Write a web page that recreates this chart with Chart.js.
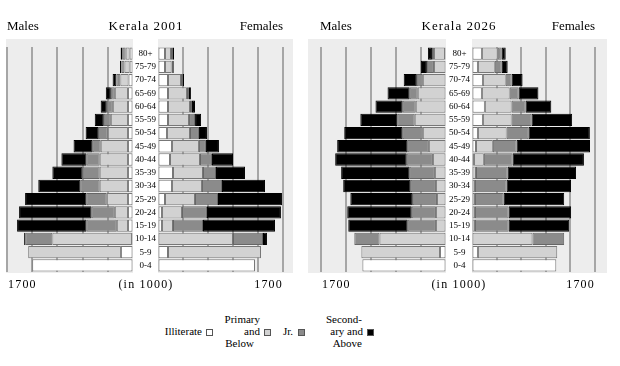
<!DOCTYPE html>
<html>
<head>
<meta charset="utf-8">
<script src="https://cdn.jsdelivr.net/npm/chart.js@4.4.1/dist/chart.umd.min.js"></script>
<style>
  body { margin: 0; background: #fff; }
  #wrap { position: relative; width: 620px; height: 366px; font-family: "Liberation Serif", serif; color: #000; }
  canvas { position: absolute; }
  .t { position: absolute; white-space: nowrap; }
  .title { font-size: 13px; line-height: 13px; top: 19px; }
  .foot { font-size: 12px; line-height: 12px; top: 278px; letter-spacing: 1.2px; }
  .lg { font-size: 11px; line-height: 12px; text-align: right; }
  .box { position: absolute; width: 5px; height: 5px; border: 1px solid #555; top: 329px; }
</style>
</head>
<body>
<div id="wrap">
  <canvas id="m2001" width="133" height="250" style="left:0;top:30px"></canvas>
  <canvas id="f2001" width="167" height="250" style="left:133px;top:30px"></canvas>
  <canvas id="m2026" width="146" height="250" style="left:300px;top:30px"></canvas>
  <canvas id="f2026" width="174" height="250" style="left:446px;top:30px"></canvas>

  <div class="t title" style="left:7px">Males</div>
  <div class="t title" style="left:96px;width:100px;text-align:center;letter-spacing:1px">Kerala 2001</div>
  <div class="t title" style="left:183px;width:100px;text-align:right">Females</div>
  <div class="t title" style="left:320px">Males</div>
  <div class="t title" style="left:409px;width:100px;text-align:center;letter-spacing:1px">Kerala 2026</div>
  <div class="t title" style="left:495px;width:100px;text-align:right">Females</div>

  <div class="t foot" style="left:8px">1700</div>
  <div class="t foot" style="left:96px;width:100px;text-align:center">(in 1000)</div>
  <div class="t foot" style="left:183px;width:100px;text-align:right">1700</div>
  <div class="t foot" style="left:322px">1700</div>
  <div class="t foot" style="left:409px;width:100px;text-align:center">(in 1000)</div>
  <div class="t foot" style="left:495px;width:100px;text-align:right">1700</div>

  <div class="t lg" style="left:140px;width:62px;top:325px">Illiterate</div>
  <div class="box" style="left:206px;background:#fff"></div>
  <div class="t lg" style="left:200px;width:60px;top:313px">Primary</div>
  <div class="t lg" style="left:200px;width:60px;top:325px">and</div>
  <div class="t lg" style="left:200px;width:54px;top:337px">Below</div>
  <div class="box" style="left:264px;background:#d2d2d2"></div>
  <div class="t lg" style="left:260px;width:33px;top:325px">Jr.</div>
  <div class="box" style="left:298px;background:#8b8b8b"></div>
  <div class="t lg" style="left:300px;width:62px;top:313px">Second-</div>
  <div class="t lg" style="left:300px;width:63px;top:325px">ary and</div>
  <div class="t lg" style="left:300px;width:62px;top:337px">Above</div>
  <div class="box" style="left:367px;background:#000"></div>
</div>
<script>
// age groups, top row first
const ageGroups = ['80+', '75-79', '70-74', '65-69', '60-64', '55-59', '50-54', '45-49', '40-44',
  '35-39', '30-34', '25-29', '20-24', '15-19', '10-14', '5-9', '0-4'];
const educationLevels = ['Illiterate', 'Primary and Below', 'Jr.', 'Secondary and Above'];
const axisMax = 1700;
const gridStep = 340;

// Kerala 2001 (in 1000)
const male2001Illiterate = [45, 45, 60, 68, 68, 68, 68, 68, 68, 68, 68, 68, 68, 68, 14, 163, 1360];
const male2001Primary    = [54, 70, 110, 177, 204, 231, 272, 367, 381, 381, 381, 286, 177, 150, 1074, 1251, 0];
const male2001Jr         = [41, 40, 55, 54, 82, 95, 122, 109, 177, 231, 258, 272, 313, 408, 367, 0, 0];
const male2001Secondary  = [27, 20, 50, 68, 82, 122, 177, 258, 340, 408, 571, 830, 979, 938, 14, 0, 0];

const female2001Illiterate = [95, 95, 136, 136, 136, 136, 122, 190, 163, 204, 190, 95, 54, 54, 0, 136, 1319];
const female2001Primary    = [82, 90, 177, 258, 299, 286, 313, 367, 408, 408, 408, 408, 272, 150, 1020, 1265, 0];
const female2001Jr         = [27, 20, 27, 27, 27, 82, 122, 95, 163, 177, 272, 313, 340, 408, 408, 0, 0];
const female2001Secondary  = [14, 10, 14, 27, 41, 82, 109, 177, 286, 394, 585, 870, 1006, 979, 54, 0, 0];

// Kerala 2026 (in 1000)
const male2026Illiterate = [14, 0, 0, 0, 0, 0, 0, 0, 0, 0, 0, 0, 0, 0, 0, 82, 1137];
const male2026Primary    = [150, 164, 315, 384, 411, 425, 315, 233, 178, 151, 137, 123, 137, 137, 904, 1069, 0];
const male2026Jr         = [27, 96, 82, 110, 178, 233, 274, 288, 356, 343, 343, 329, 329, 384, 343, 0, 0];
const male2026Secondary  = [55, 82, 178, 301, 370, 507, 795, 959, 973, 932, 918, 849, 877, 808, 0, 0, 0];

const female2026Illiterate = [137, 82, 151, 137, 178, 151, 82, 55, 27, 0, 0, 0, 0, 0, 0, 82, 1165];
const female2026Primary    = [219, 233, 315, 384, 370, 397, 397, 233, 137, 55, 41, 41, 41, 41, 836, 1096, 0];
const female2026Jr         = [55, 96, 82, 123, 192, 274, 301, 329, 397, 438, 438, 397, 466, 466, 438, 0, 0];
const female2026Secondary  = [55, 82, 151, 274, 356, 562, 849, 1014, 986, 945, 890, 836, 863, 836, 0, 0, 0];

const fills = ['#ffffff', '#d2d2d2', '#8b8b8b', '#000000'];
const edges = ['#777777', '#777777', '#666666', '#000000'];

// light grey plot background, a bit taller than the bars
const plotBg = {
  id: 'plotBg',
  beforeDraw(chart, args, opts) {
    const { ctx, chartArea: a } = chart;
    ctx.save();
    ctx.fillStyle = '#ededed';
    ctx.fillRect(a.left - opts.left, a.top - 8, a.right - a.left + opts.left + opts.right, a.bottom - a.top + 9);
    ctx.restore();
  }
};

function pyramidHalf(id, series, o) {
  new Chart(document.getElementById(id), {
    type: 'bar',
    data: {
      labels: ageGroups,
      datasets: series.map((values, i) => ({
        label: educationLevels[i],
        data: values,
        backgroundColor: fills[i],
        borderColor: edges[i],
        borderWidth: 1,
        borderSkipped: false,
        categoryPercentage: 0.93,
        barPercentage: 1
      }))
    },
    options: {
      indexAxis: 'y',
      responsive: false,
      animation: false,
      layout: { padding: o.padding },
      plugins: {
        legend: { display: false },
        tooltip: { enabled: false },
        plotBg: { left: o.bgLeft, right: o.bgRight }
      },
      scales: {
        x: {
          stacked: true,
          reverse: o.reverse,
          min: 0,
          max: axisMax,
          ticks: { display: false, stepSize: gridStep },
          border: { display: false },
          grid: {
            drawTicks: false,
            lineWidth: c => c.tick.value === 0 ? 1 : 2,
            color: c => c.tick.value === 0 ? '#d6d6d6' : '#a6a6a6'
          }
        },
        y: {
          stacked: true,
          display: o.ageWidth > 0,
          position: 'left',
          afterFit(scale) { scale.width = o.ageWidth; },
          border: { display: false },
          grid: { display: false, drawTicks: false },
          ticks: {
            autoSkip: false,
            crossAlign: 'center',
            padding: 2,
            color: '#000',
            font: { family: 'Liberation Serif', size: 9 }
          }
        }
      }
    },
    plugins: [plotBg]
  });
}

pyramidHalf('m2001', [male2001Illiterate, male2001Primary, male2001Jr, male2001Secondary],
  { reverse: true, ageWidth: 0, padding: { left: 7, top: 17, bottom: 8, right: 0 }, bgLeft: 1, bgRight: 0 });
pyramidHalf('f2001', [female2001Illiterate, female2001Primary, female2001Jr, female2001Secondary],
  { reverse: false, ageWidth: 25, padding: { left: 0, top: 17, bottom: 8, right: 17 }, bgLeft: 0, bgRight: 10 });
pyramidHalf('m2026', [male2026Illiterate, male2026Primary, male2026Jr, male2026Secondary],
  { reverse: true, ageWidth: 0, padding: { left: 21, top: 17, bottom: 8, right: 0 }, bgLeft: 13, bgRight: 0 });
pyramidHalf('f2026', [female2026Illiterate, female2026Primary, female2026Jr, female2026Secondary],
  { reverse: false, ageWidth: 26, padding: { left: 0, top: 17, bottom: 8, right: 25 }, bgLeft: 0, bgRight: 12 });
</script>
</body>
</html>
